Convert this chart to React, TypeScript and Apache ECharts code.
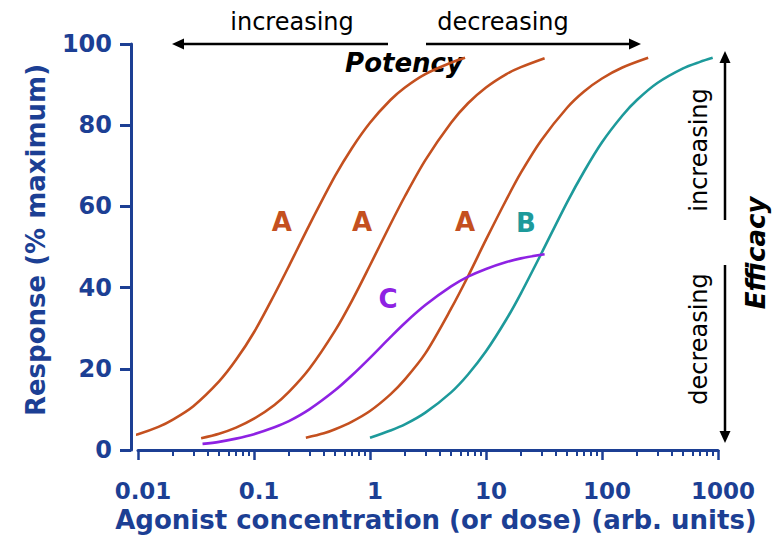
import React, { useEffect, useRef } from 'react';
import * as echarts from 'echarts';

// ---- data ----
const xTickValues = [0.01, 0.1, 1, 10, 100, 1000];
const xTickLabels = ['0.01', '0.1', '1', '10', '100', '1000'];
const minorMultipliers = [2, 3, 4, 5, 6, 7, 8, 9];
const yTickValues = [0, 20, 40, 60, 80, 100];

const a1X = [0.0074, 0.01, 0.015, 0.02, 0.03, 0.05, 0.07, 0.1, 0.15, 0.2, 0.3, 0.5, 0.7, 1, 1.5, 2, 3, 5, 6.6];
const a1Y = [3.0, 3.9, 5.7, 7.5, 10.8, 16.9, 22.2, 29.0, 38.3, 45.3, 55.4, 67.5, 74.4, 80.6, 86.2, 89.3, 92.6, 95.4, 96.6];

const a2X = [0.035, 0.05, 0.07, 0.1, 0.15, 0.2, 0.3, 0.5, 0.7, 1, 1.5, 2, 3, 5, 7, 10, 15, 20, 32];
const a2Y = [2.9, 4.0, 5.5, 7.7, 11.1, 14.3, 20.0, 29.4, 36.8, 45.5, 55.6, 62.5, 71.4, 80.6, 85.4, 89.3, 92.6, 94.3, 96.5];

const a3X = [0.28, 0.4, 0.5, 0.7, 1, 1.5, 2, 3, 5, 7, 10, 15, 20, 30, 50, 70, 100, 150, 250];
const a3Y = [3.0, 4.1, 5.1, 7.0, 9.6, 13.7, 17.4, 23.8, 34.8, 42.8, 51.8, 61.7, 68.3, 76.3, 84.3, 88.3, 91.5, 94.2, 96.6];

const bX = [1, 1.5, 2, 3, 5, 7, 10, 15, 20, 30, 50, 70, 100, 150, 200, 300, 500, 700, 900];
const bY = [3.0, 4.8, 6.3, 9.2, 14.2, 18.6, 24.3, 32.2, 38.6, 48.4, 61.0, 68.6, 75.8, 82.4, 86.2, 90.4, 94.0, 95.6, 96.6];

const cX = [0.036, 0.05, 0.07, 0.1, 0.15, 0.2, 0.3, 0.5, 0.7, 1, 1.5, 2, 3, 5, 7, 10, 15, 20, 32];
const cY = [1.5, 2.0, 2.8, 3.9, 5.6, 7.1, 10.0, 14.7, 18.4, 22.7, 27.8, 31.3, 35.7, 40.3, 42.7, 44.6, 46.3, 47.2, 48.2];

const curveLabels = ['A', 'A', 'A', 'B', 'C'];
const curveLabelX = [0.174, 0.853, 6.59, 22.1, 1.43];
const curveLabelY = [56.2, 56.2, 56.2, 55.9, 37.2];

// ---- styles ----
const BLUE = '#1c3f94';
const COL_A = '#c4501f';
const COL_B = '#1d9a9b';
const COL_C = '#8e22e3';
const labelColors = [COL_A, COL_A, COL_A, COL_B, COL_C];
const FONT = '"DejaVu Sans", "Liberation Sans", Arial, sans-serif';

const zip = (xs: number[], ys: number[]) => xs.map((x, i) => [x, ys[i]]);

const minorTickValues: number[] = [];
xTickValues.slice(0, -1).forEach((d) => minorMultipliers.forEach((m) => minorTickValues.push(+(d * m).toPrecision(6))));

function curve(name: string, xs: number[], ys: number[], color: string) {
  return {
    name,
    type: 'line',
    data: zip(xs, ys),
    showSymbol: false,
    symbol: 'none',
    smooth: 0.3,
    clip: false,
    lineStyle: { color, width: 2.6 },
    z: 3,
  };
}

function arrowLine(x1: number, y1: number, x2: number, y2: number) {
  return {
    type: 'line',
    shape: { x1, y1, x2, y2 },
    style: { stroke: '#000', lineWidth: 2.5 },
    z: 1,
  };
}

function arrowHead(points: number[][]) {
  return { type: 'polygon', shape: { points }, style: { fill: '#000' }, z: 1 };
}

function textEl(text: string, x: number, y: number, size: number, opts: any = {}) {
  return {
    type: 'text',
    x,
    y,
    rotation: opts.rotation || 0,
    z: 1,
    style: {
      text,
      x: 0,
      y: 0,
      align: 'center',
      verticalAlign: 'middle',
      textAlign: 'center',
      textVerticalAlign: 'middle',
      fontSize: size,
      fontFamily: FONT,
      fontWeight: opts.weight || 'normal',
      fontStyle: opts.style || 'normal',
      fill: '#000',
    },
  };
}

export default function App() {
  const ref = useRef<HTMLDivElement>(null);

  useEffect(() => {
    if (!ref.current) return;
    const chart = echarts.init(ref.current, null, { renderer: 'svg' });
    const option: any = {
      animation: false,
      backgroundColor: '#ffffff',
      grid: { left: 138, right: 55, top: 44, bottom: 93, containLabel: false },
      xAxis: [
        {
          type: 'log',
          logBase: 10,
          min: 0.01,
          max: 1000,
          position: 'bottom',
          name: 'Agonist concentration (or dose) (arb. units)',
          nameLocation: 'middle',
          nameGap: 56,
          nameTextStyle: {
            color: BLUE,
            fontFamily: FONT,
            fontWeight: 'bold',
            fontSize: 26,
            padding: [0, 0, 0, 16],
          },
          axisLine: { show: true, lineStyle: { color: BLUE, width: 3 } },
          axisTick: { show: true, length: 10, lineStyle: { color: BLUE, width: 2.5 } },
          axisLabel: {
            color: BLUE,
            fontFamily: FONT,
            fontWeight: 'bold',
            fontSize: 23,
            margin: 29,
            padding: [0, 0, 0, 10],
            formatter: (v: number) => {
              const i = xTickValues.findIndex((t) => Math.abs(Math.log10(t) - Math.log10(v)) < 1e-6);
              return i >= 0 ? xTickLabels[i] : '';
            },
          },
          splitLine: { show: false },
        },
        {
          type: 'log',
          logBase: 10,
          min: 0.01,
          max: 1000,
          position: 'bottom',
          axisLine: { show: false },
          axisTick: {
            show: true,
            length: 6,
            customValues: minorTickValues,
            lineStyle: { color: BLUE, width: 2 },
          },
          axisLabel: { show: false, customValues: minorTickValues },
          splitLine: { show: false },
        },
      ],
      yAxis: {
        type: 'value',
        min: 0,
        max: 100,
        interval: 20,
        position: 'left',
        offset: 7,
        name: 'Response (% maximum)',
        nameLocation: 'middle',
        nameGap: 82,
        nameRotate: 90,
        nameTextStyle: {
          color: BLUE,
          fontFamily: FONT,
          fontWeight: 'bold',
          fontSize: 26,
          padding: [0, 0, 0, 14],
        },
        axisLine: { show: true, lineStyle: { color: BLUE, width: 3 } },
        axisTick: { show: true, length: 11, lineStyle: { color: BLUE, width: 3 } },
        axisLabel: {
          color: BLUE,
          fontFamily: FONT,
          fontWeight: 'bold',
          fontSize: 24,
          margin: 19,
          formatter: (v: number) => (yTickValues.includes(v) ? String(v) : ''),
        },
        splitLine: { show: false },
      },
      series: [
        curve('A1', a1X, a1Y, COL_A),
        curve('A2', a2X, a2Y, COL_A),
        curve('A3', a3X, a3Y, COL_A),
        curve('B', bX, bY, COL_B),
        curve('C', cX, cY, COL_C),
        {
          name: 'labels',
          type: 'scatter',
          symbolSize: 0,
          clip: false,
          silent: true,
          itemStyle: { opacity: 1 },
          data: curveLabels.map((t, i) => ({
            value: [curveLabelX[i], curveLabelY[i]],
            itemStyle: { color: labelColors[i], opacity: 1 },
            label: {
              show: true,
              position: 'inside',
              formatter: t,
              color: labelColors[i],
              opacity: 1,
              textBorderWidth: 0,
              fontFamily: FONT,
              fontWeight: 'bold',
              fontSize: 26,
            },
          })),
          z: 4,
        },
      ],
      graphic: [
        textEl('increasing', 292, 22, 24),
        textEl('decreasing', 503, 22, 24),
        arrowLine(388, 44, 182, 44),
        arrowHead([[172, 44], [184, 38.5], [184, 49.5]]),
        arrowLine(426, 44, 630, 44),
        arrowHead([[641, 44], [629, 38.5], [629, 49.5]]),
        textEl('Potency', 404, 63, 26, { weight: 'bold', style: 'italic' }),
        textEl('increasing', 699, 150, 24, { rotation: Math.PI / 2 }),
        textEl('decreasing', 699, 339, 24, { rotation: Math.PI / 2 }),
        arrowLine(725, 220, 725, 62),
        arrowHead([[725, 51], [719.5, 63], [730.5, 63]]),
        arrowLine(725, 265, 725, 432),
        arrowHead([[725, 443], [719.5, 431], [730.5, 431]]),
        textEl('Efficacy', 756, 253, 26, { weight: 'bold', style: 'italic', rotation: Math.PI / 2 }),
      ],
    };
    chart.setOption(option);
    return () => chart.dispose();
  }, []);

  return (
    <div
      ref={ref}
      style={{ position: 'absolute', left: 0, top: 0, width: 773, height: 543, background: '#fff' }}
    />
  );
}
